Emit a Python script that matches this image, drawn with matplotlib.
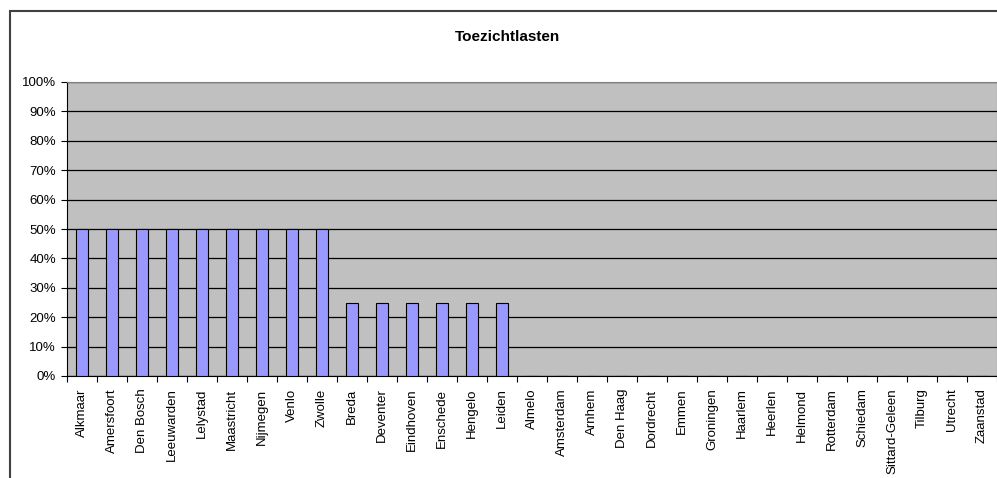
import matplotlib.pyplot as plt
from matplotlib.patches import Rectangle
from matplotlib.ticker import PercentFormatter, MultipleLocator

plt.rcParams['font.family'] = ['Liberation Sans', 'DejaVu Sans']

# Data
cities = [
    "Alkmaar", "Amersfoort", "Den Bosch", "Leeuwarden", "Lelystad", "Maastricht",
    "Nijmegen", "Venlo", "Zwolle", "Breda", "Deventer", "Eindhoven", "Enschede",
    "Hengelo", "Leiden", "Almelo", "Amsterdam", "Arnhem", "Den Haag", "Dordrecht",
    "Emmen", "Groningen", "Haarlem", "Heerlen", "Helmond", "Rotterdam", "Schiedam",
    "Sittard-Geleen", "Tilburg", "Utrecht", "Zaanstad",
]
values = [0.50] * 9 + [0.25] * 6 + [0.0] * 16

W, H = 997, 478
fig = plt.figure(figsize=(W / 100, H / 100), dpi=100)

# chart border (extends past the image on the right and bottom)
fig.patches.append(Rectangle((10 / W, -0.1), 1.2, 1 - 11 / H + 0.1,
                             transform=fig.transFigure, fill=False,
                             edgecolor="#404040", linewidth=1.5))

ax = fig.add_axes([67 / W, 1 - 376 / H, 930 / W, 294 / H])
ax.set_facecolor("#C0C0C0")

x = range(len(cities))
ax.bar(x, values, width=0.4, color="#9999FF", edgecolor="black", linewidth=0.8, zorder=3)

ax.set_xlim(-0.5, len(cities) - 0.5)
ax.set_ylim(0, 1)
ax.yaxis.set_major_locator(MultipleLocator(0.1))
ax.yaxis.set_major_formatter(PercentFormatter(1.0, decimals=0))
ax.grid(axis="y", color="black", linewidth=0.9, zorder=1)

ax.set_xticks(list(x))
ax.set_xticklabels(cities, rotation=90, fontsize=9.5)
ax.tick_params(axis="x", length=0, pad=9)
ax.set_xticks([i - 0.5 for i in range(len(cities) + 1)], minor=True)
ax.tick_params(axis="x", which="minor", length=4, direction="out", width=0.8)
ax.tick_params(axis="y", labelsize=9.5, length=4, width=0.8, pad=4)

for side in ["top", "right"]:
    ax.spines[side].set_color("#808080")
ax.spines["left"].set_color("black")
ax.spines["bottom"].set_color("black")

fig.text(507 / W, 1 - 37 / H, "Toezichtlasten", ha="center", va="center",
         fontsize=11, fontweight="bold")

fig.savefig("out.png", dpi=100)
